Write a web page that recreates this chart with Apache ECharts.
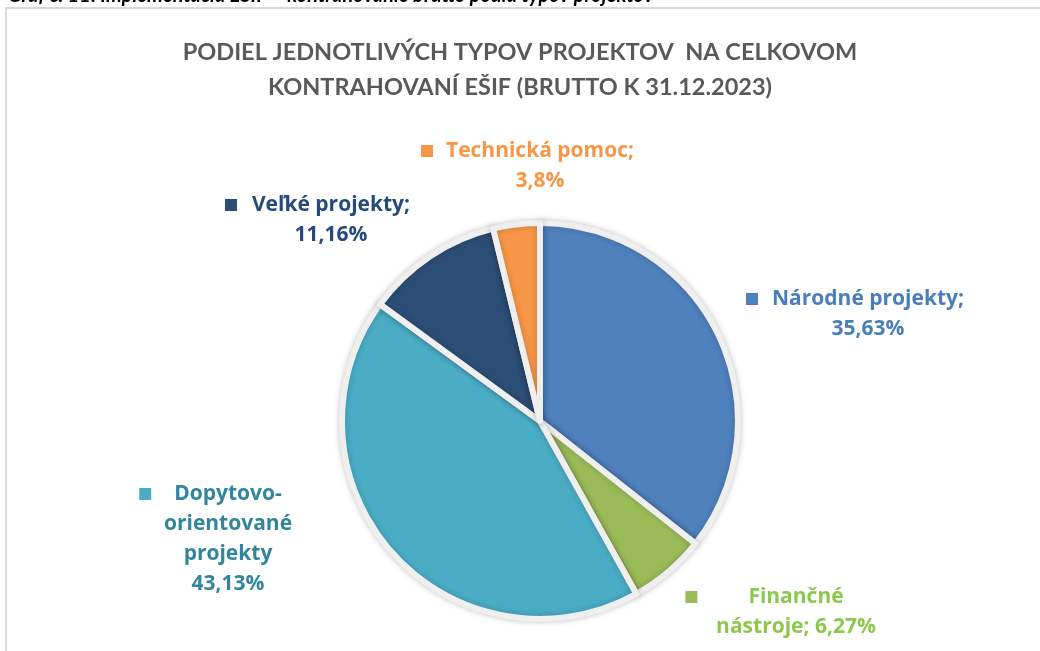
<!DOCTYPE html>
<html>
<head>
<meta charset="utf-8">
<script src="https://cdn.jsdelivr.net/npm/echarts@6/dist/echarts.min.js"></script>
<style>
  html, body { margin: 0; padding: 0; background: #fff; }
  #chart { width: 1040px; height: 651px; }
</style>
</head>
<body>
<div id="chart"></div>
<script>
// data
const categories = ['Národné projekty', 'Finančné nástroje', 'Dopytovo-orientované projekty', 'Veľké projekty', 'Technická pomoc'];
const shares = [35.63, 6.27, 43.13, 11.16, 3.8];
// label lines as shown in the picture, %v = value
const labelLines = [
  ['Národné projekty;', '%v'],
  ['Finančné', 'nástroje; %v'],
  ['Dopytovo-', 'orientované', 'projekty', '%v'],
  ['Veľké projekty;', '%v'],
  ['Technická pomoc;', '%v']
];
const chartTitle = 'PODIEL JEDNOTLIVÝCH TYPOV PROJEKTOV  NA CELKOVOM\nKONTRAHOVANÍ EŠIF (BRUTTO K 31.12.2023)';
const caption = 'Graf č. 11: Implementácia EŠIF – kontrahovanie brutto podľa typov projektov';

// styles
const sliceColors = ['#4F81BD', '#9BBB59', '#4BACC6', '#2C4D75', '#F79646'];
const labelColors = ['#4A7EBB', '#8CC84B', '#31859C', '#254A7B', '#F79646'];
const keyGaps = [14, 51, 23, 15, 13];
const labelPos = [[868, 314], [796, 612], [228, 539], [331, 220], [540, 166]];
const FONT = 'Lato, "Open Sans", sans-serif';
const LABEL_FONT = '"Open Sans", Lato, sans-serif';

const chart = echarts.init(document.getElementById('chart'));

const pieData = categories.map((name, i) => {
  return {
    name: name,
    value: shares[i],
    itemStyle: { color: sliceColors[i] },
    label: {
      rich: {
        sq: { width: 12, height: 12, backgroundColor: sliceColors[i] },
        gap: { width: keyGaps[i] },
        // keeps the text centred, the key hangs on the left
        pad: { width: keyGaps[i] + 12 },
        t: { color: labelColors[i], fontSize: 21, fontWeight: 'bold', fontFamily: LABEL_FONT, lineHeight: 30 }
      }
    }
  };
});

const fmtValue = (v) => String(v).replace('.', ',') + '%';

const option = {
  backgroundColor: '#fff',
  animation: false,
  title: {
    text: chartTitle,
    left: 'center',
    top: 30,
    textStyle: {
      color: '#595959',
      fontSize: 23.5,
      fontWeight: 'bold',
      fontFamily: FONT,
      lineHeight: 35
    }
  },
  graphic: [
    {
      type: 'rect',
      shape: { x: 6, y: 8, width: 1200, height: 800 },
      style: { fill: null, stroke: '#D9D9D9', lineWidth: 2 },
      silent: true
    },
    {
      type: 'text',
      x: 8,
      y: 6,
      style: {
        text: caption,
        fill: '#000',
        font: 'italic bold 20px ' + FONT,
        verticalAlign: 'bottom'
      },
      silent: true
    }
  ],
  series: [
    {
      type: 'pie',
      center: [540, 421],
      radius: 198,
      startAngle: 90,
      clockwise: true,
      silent: true,
      itemStyle: {
        borderColor: '#EFEFEF',
        borderWidth: 6,
        shadowBlur: 6,
        shadowColor: 'rgba(0,0,0,0.2)'
      },
      labelLine: { show: false },
      label: {
        show: true,
        position: 'outside',
        formatter: (p) => {
          const lines = labelLines[p.dataIndex].map((s) => s.replace('%v', fmtValue(p.value)));
          return lines.map((s, k) => {
            if (k === 0) return '{sq| }{gap| }{t|' + s + '}{pad| }';
            return '{t|' + s + '}';
          }).join('\n');
        }
      },
      labelLayout: (params) => {
        const pos = labelPos[params.dataIndex];
        return { x: pos[0], y: pos[1], align: 'center', verticalAlign: 'middle' };
      },
      data: pieData
    }
  ]
};

chart.setOption(option);
</script>
</body>
</html>
